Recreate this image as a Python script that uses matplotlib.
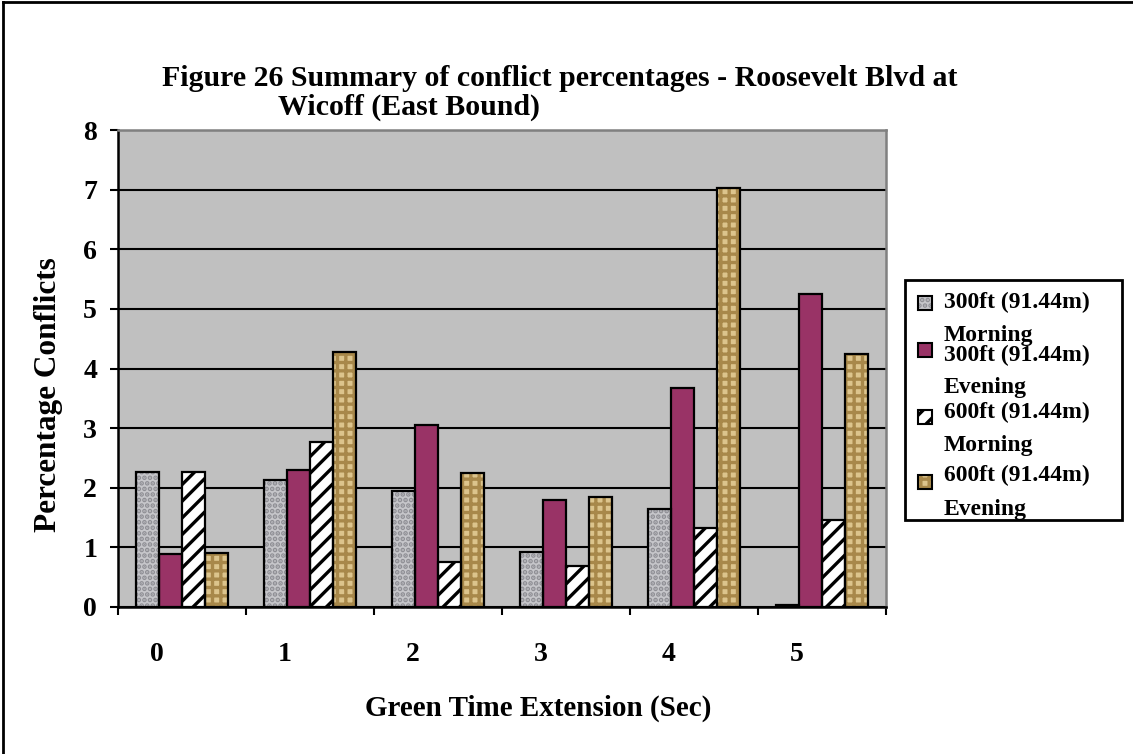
import matplotlib
matplotlib.use("Agg")
import matplotlib.pyplot as plt
import numpy as np
from matplotlib.patches import Rectangle
from matplotlib.lines import Line2D
from matplotlib.transforms import ScaledTranslation

plt.rcParams['font.family'] = ['Liberation Serif', 'DejaVu Serif']
plt.rcParams['font.weight'] = 'bold'
plt.rcParams['hatch.linewidth'] = 2.4

categories = ['0', '1', '2', '3', '4', '5']
series_labels = ['300ft (91.44m)\nMorning', '300ft (91.44m)\nEvening',
                 '600ft (91.44m)\nMorning', '600ft (91.44m)\nEvening']
am_300 = [2.27, 2.13, 1.95, 0.92, 1.64, 0.04]
pm_300 = [0.89, 2.30, 3.05, 1.80, 3.68, 5.25]
am_600 = [2.27, 2.77, 0.75, 0.68, 1.33, 1.46]
pm_600 = [0.90, 4.27, 2.25, 1.85, 7.03, 4.24]
yticks = [0, 1, 2, 3, 4, 5, 6, 7, 8]

series = [am_300, pm_300, am_600, pm_600]
# (face, hatch, hatch colour)
styles = [('#c6c6ca', '...', '#8e8e94'),
          ('#993366', '', '#993366'),
          ('white', '//', 'black'),
          ('#dcc48c', '++', '#a8884a')]

W, H = 1133, 754
fig = plt.figure(figsize=(W / 100, H / 100), dpi=100)
ax = fig.add_axes([118 / W, 1 - 607 / H, (886 - 118) / W, (607 - 130) / H])
ax.set_facecolor('#c0c0c0')

x = np.arange(len(categories))
bw = 0.18
offsets = [-0.27, -0.09, 0.09, 0.27]
for vals, off, (fc, hatch, hc) in zip(series, offsets, styles):
    ax.bar(x + off, vals, width=bw, color=fc, hatch=hatch, edgecolor=hc,
           linewidth=0, zorder=2)
    ax.bar(x + off, vals, width=bw, fill=False, edgecolor='black',
           linewidth=1.6, zorder=3)

ax.set_xlim(-0.5, len(categories) - 0.5)
ax.set_ylim(0, 8)
ax.set_yticks(yticks)
ax.set_yticklabels([str(t) for t in yticks], fontsize=20, fontweight='bold')
ax.yaxis.grid(True, color='black', linewidth=1.5, zorder=1)
ax.set_axisbelow(True)

ax.set_xticks(x)
ax.set_xticklabels(categories, fontsize=20, fontweight='bold')
ax.set_xticks(np.arange(-0.5, len(categories)), minor=True)
ax.tick_params(axis='x', which='major', length=0, pad=25)
ax.tick_params(axis='x', which='minor', length=6, width=1.5, direction='out')
ax.tick_params(axis='y', length=6, width=1.5, direction='out', pad=9)
for lab in ax.get_xticklabels():
    lab.set_transform(lab.get_transform() + ScaledTranslation(-0.25, 0, fig.dpi_scale_trans))

for s in ['left', 'bottom']:
    ax.spines[s].set_color('black')
    ax.spines[s].set_linewidth(1.8)
for s in ['top', 'right']:
    ax.spines[s].set_color('#808080')
    ax.spines[s].set_linewidth(1.8)

# Axis labels
fig.text(538 / W, 1 - 708 / H, 'Green Time Extension (Sec)', fontsize=21,
         fontweight='bold', ha='center', va='center')
fig.text(49 / W, 1 - 395 / H, 'Percentage Conflicts', fontsize=22.5,
         fontweight='bold', ha='center', va='center', rotation=90)

# Title (two lines with hanging layout)
fig.text(162 / W, 1 - 78 / H, 'Figure 26 Summary of conflict percentages - Roosevelt Blvd at',
         fontsize=21.5, fontweight='bold', ha='left', va='center')
fig.text(278 / W, 1 - 107 / H, 'Wicoff (East Bound)',
         fontsize=21.5, fontweight='bold', ha='left', va='center')

# Outer frame (left and top)
fig.add_artist(Line2D([3 / W, 3 / W], [0, 1 - 2 / H], color='black', linewidth=2,
                      transform=fig.transFigure))
fig.add_artist(Line2D([3 / W, 1], [1 - 2 / H, 1 - 2 / H], color='black', linewidth=2,
                      transform=fig.transFigure))

# Legend (drawn manually to mimic the wrapped labels)
lx0, lx1, ly0, ly1 = 905, 1122, 280, 520
box = Rectangle((lx0 / W, 1 - ly1 / H), (lx1 - lx0) / W, (ly1 - ly0) / H,
                transform=fig.transFigure, facecolor='white', edgecolor='black',
                linewidth=2, zorder=5)
fig.add_artist(box)
marker_y = [303, 350, 417, 482]
text_y = [(302, 335), (355, 388), (412, 445), (475, 510)]
for lab, my, (t1, t2), (fc, hatch, hc) in zip(series_labels, marker_y, text_y, styles):
    m = Rectangle((918 / W, 1 - (my + 7) / H), 14 / W, 14 / H, transform=fig.transFigure,
                  facecolor=fc, hatch=hatch, edgecolor=hc, linewidth=0, zorder=6)
    fig.add_artist(m)
    mo = Rectangle((918 / W, 1 - (my + 7) / H), 14 / W, 14 / H, transform=fig.transFigure,
                   fill=False, edgecolor='black', linewidth=1.5, zorder=7)
    fig.add_artist(mo)
    l1, l2 = lab.split('\n')
    fig.text(944 / W, 1 - t1 / H, l1, fontsize=17, fontweight='bold',
             ha='left', va='center', zorder=8)
    tt = fig.text(944 / W, 1 - t2 / H, l2, fontsize=17, fontweight='bold',
                  ha='left', va='center', zorder=8)
    tt.set_clip_path(box)

fig.savefig('out.png', dpi=100)
